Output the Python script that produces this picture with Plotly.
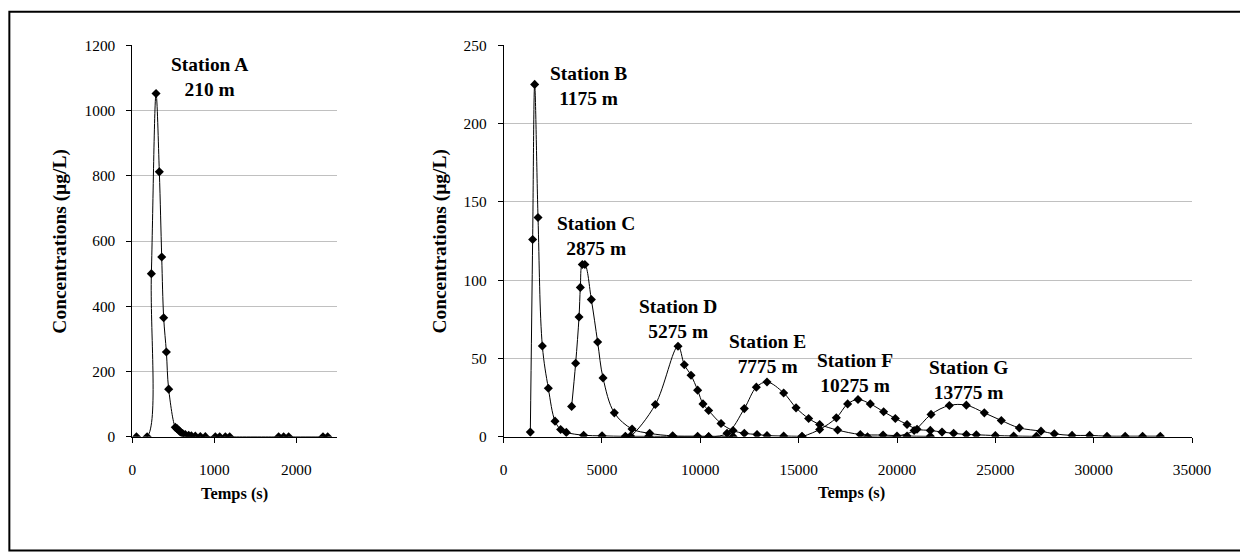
import plotly.graph_objects as go

# Station A (left panel)
t_a = [50, 180, 232, 289, 329, 358, 382, 415, 443, 524, 545, 565, 585, 614, 646,
       687, 720, 768, 829, 890, 1012, 1065, 1134, 1187, 1784, 1845, 1906, 2325, 2382]
c_a = [0, 0, 500, 1052, 812, 551, 365, 260, 146, 29, 25, 20, 15, 10, 7,
       5, 3, 2, 1, 0.5, 0, 0, 0, 0, 0, 0, 0, 0, 0]

# Stations B to G (right panel)
t_b = [1357, 1475, 1577, 1748, 1968, 2272, 2613, 2898, 3188, 4067, 5003, 6187, 7373, 8593, 10423]
c_b = [3, 126, 225, 140, 58, 31, 10, 4.7, 2.8, 1, 0.6, 0.3, 0.3, 0.2, 0.1]

t_c = [3457, 3661, 3833, 3900, 4000, 4130, 4459, 4780, 5053, 5628, 6529, 7424, 8593, 9863, 11663]
c_c = [19.4, 47, 76.5, 95.4, 110, 110, 87.6, 60.5, 37.6, 15.3, 5, 2.2, 0.6, 0.4, 0.2]

t_d = [6200, 6450, 7713, 8866, 9187, 9527, 9863, 10135, 10423, 11053, 11663, 12237,
       12883, 13390, 14237, 15170]
c_d = [0, 0.5, 20.6, 57.8, 46, 39.3, 29.8, 21, 16.8, 8.5, 4, 2.2, 1.5, 0.8, 0.5, 0.3]

t_e = [10423, 11358, 12237, 12848, 13390, 14237, 14867, 15507, 16067, 16982, 18135,
       19290, 20510, 21694]
c_e = [0, 2.2, 18, 31.7, 35, 28, 18.5, 11.7, 7.9, 4.3, 1.5, 1.1, 0.5, 0.3]

t_f = [15170, 16067, 16915, 17490, 18018, 18643, 19320, 19915, 20510, 21018, 21694,
       22289, 22879, 23525, 24033, 25000, 25930, 27085]
c_f = [0, 4.7, 12.1, 21, 23.8, 21, 16, 11.7, 7.9, 4.8, 4.1, 3, 2.2, 1.5, 1.3, 0.8, 0.5, 0.3]

t_g = [18500, 20000, 20870, 21730, 22660, 23525, 24440, 25303, 26218, 27320, 27997,
       28900, 29793, 30677, 31600, 32487, 33387]
c_g = [0, 0.5, 4, 14.3, 20, 20.2, 15.3, 10.4, 5.7, 3.6, 1.9, 0.9, 0.9, 0.4, 0.4, 0.4, 0.4]

# Station labels
labels = ["Station A<br>210 m", "Station B<br>1175 m", "Station C<br>2875 m",
          "Station D<br>5275 m", "Station E<br>7775 m", "Station F<br>10275 m",
          "Station G<br>13775 m"]
label_t = [945, 4306, 4713, 8882, 13432, 17880, 23626]
label_c = [1104, 224, 128, 75.3, 53, 40.6, 36.1]

# the captured page comes back slightly shrunk, so layout positions are
# given in target-picture pixels and mapped back to figure pixels here
BODY = 8
SX, AX = 0.981, 3.8
SY, AY = 0.972, 7.4
W, H = 1262, 560
serif = "Liberation Serif"
k = 1 / ((SX + SY) / 2)  # font compensation


def px(x):
    return ((x - AX) / SX - BODY) / W


def py(y):
    return 1 - ((y - AY) / SY - BODY) / H


fig = go.Figure()

line_style = dict(color="black", width=1, shape="spline", smoothing=1)
marker_style = dict(symbol="diamond", size=7, color="black")

fig.add_trace(go.Scatter(x=t_a, y=c_a, mode="lines+markers", line=line_style,
                         marker=marker_style, xaxis="x", yaxis="y"))
for tt, cc in [(t_b, c_b), (t_c, c_c), (t_d, c_d), (t_e, c_e), (t_f, c_f), (t_g, c_g)]:
    fig.add_trace(go.Scatter(x=tt, y=cc, mode="lines+markers", line=line_style,
                             marker=marker_style, xaxis="x2", yaxis="y2"))

# station annotations
for i, txt in enumerate(labels):
    ax = "x" if i == 0 else "x2"
    ay = "y" if i == 0 else "y2"
    fig.add_annotation(x=label_t[i], y=label_c[i], xref=ax, yref=ay, text="<b>" + txt + "</b>",
                       showarrow=False, xanchor="center", yanchor="middle",
                       font=dict(family=serif, size=19 * k, color="black"))

# axis titles
for xp in [60, 440]:
    fig.add_annotation(x=px(xp), y=py(240), xref="paper", yref="paper",
                       text="<b>Concentrations (µg/L)</b>", textangle=-90, showarrow=False,
                       xanchor="center", yanchor="middle",
                       font=dict(family=serif, size=19 * k, color="black"))
for xp, yp in [(234, 493), (851, 492)]:
    fig.add_annotation(x=px(xp), y=py(yp), xref="paper", yref="paper",
                       text="<b>Temps (s)</b>", showarrow=False,
                       xanchor="center", yanchor="middle",
                       font=dict(family=serif, size=16 * k, color="black"))

# outer frame
fig.add_shape(type="rect", xref="paper", yref="paper", x0=px(9), x1=px(1241),
              y0=py(550), y1=py(10), line=dict(color="black", width=2))

xcommon = dict(showline=True, linecolor="black", linewidth=1, ticks="outside", ticklen=5,
               tickcolor="black", showgrid=False, zeroline=False, ticklabelstandoff=14,
               tickformat="d", tickfont=dict(family=serif, size=15 * k, color="black"))
ycommon = dict(showline=True, linecolor="black", linewidth=1, ticks="outside", ticklen=5,
               tickcolor="black", showgrid=True, gridcolor="#c0c0c0", gridwidth=1,
               zeroline=False, ticklabelstandoff=8,
               tickfont=dict(family=serif, size=15 * k, color="black"))

ydom = [py(436), py(43.5)]

fig.update_layout(
    width=W, height=H,
    margin=dict(l=0, r=0, t=0, b=0),
    paper_bgcolor="white", plot_bgcolor="white",
    showlegend=False,
    xaxis=dict(domain=[px(132), px(337)], range=[0, 2500], dtick=1000, anchor="y", **xcommon),
    yaxis=dict(domain=ydom, range=[0, 1200], dtick=200, anchor="x", **ycommon),
    xaxis2=dict(domain=[px(503.3), px(1191.7)], range=[0, 35000], dtick=5000, anchor="y2", **xcommon),
    yaxis2=dict(domain=ydom, range=[0, 250], dtick=50, anchor="x2", **ycommon),
)

fig.write_html("out.html")
